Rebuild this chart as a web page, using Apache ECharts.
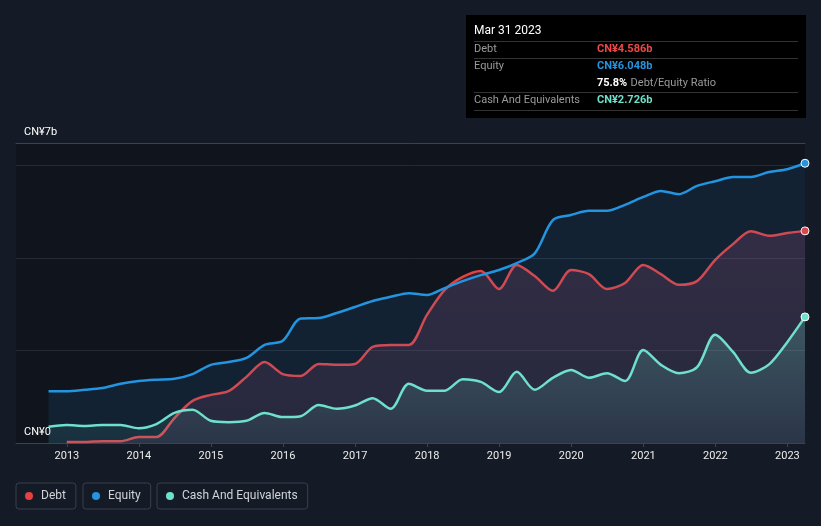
<!DOCTYPE html>
<html><head><meta charset="utf-8">
<script src="https://cdn.jsdelivr.net/npm/echarts@6/dist/echarts.min.js"></script>
<style>html,body{margin:0;padding:0;background:#151b26;}#c{width:821px;height:526px;}</style>
</head><body><div id="c"></div>
<script>
const quarters = [
  '2012-09-30','2012-12-31',
  '2013-03-31','2013-06-30','2013-09-30','2013-12-31',
  '2014-03-31','2014-06-30','2014-09-30','2014-12-31',
  '2015-03-31','2015-06-30','2015-09-30','2015-12-31',
  '2016-03-31','2016-06-30','2016-09-30','2016-12-31',
  '2017-03-31','2017-06-30','2017-09-30','2017-12-31',
  '2018-03-31','2018-06-30','2018-09-30','2018-12-31',
  '2019-03-31','2019-06-30','2019-09-30','2019-12-31',
  '2020-03-31','2020-06-30','2020-09-30','2020-12-31',
  '2021-03-31','2021-06-30','2021-09-30','2021-12-31',
  '2022-03-31','2022-06-30','2022-09-30','2022-12-31',
  '2023-03-31'
];
const debt = [null,0.02,0.02,0.04,0.04,0.13,0.13,0.54,0.91,1.04,1.12,1.43,1.75,1.49,1.45,1.71,1.69,1.71,2.08,2.12,2.12,2.77,3.31,3.59,3.72,3.33,3.85,3.61,3.29,3.74,3.65,3.33,3.46,3.85,3.65,3.42,3.50,3.96,4.30,4.58,4.48,4.54,4.586];
const equity = [1.12,1.12,1.15,1.19,1.28,1.34,1.37,1.39,1.49,1.69,1.75,1.84,2.12,2.21,2.69,2.70,2.81,2.94,3.07,3.16,3.24,3.20,3.35,3.50,3.63,3.74,3.89,4.10,4.82,4.93,5.02,5.02,5.15,5.32,5.45,5.38,5.56,5.66,5.75,5.75,5.86,5.92,6.048];
const cash = [0.35,0.39,0.37,0.39,0.39,0.32,0.41,0.65,0.72,0.48,0.45,0.48,0.65,0.56,0.58,0.82,0.74,0.81,0.97,0.74,1.28,1.13,1.13,1.38,1.32,1.10,1.54,1.15,1.41,1.58,1.41,1.51,1.34,2.01,1.69,1.51,1.64,2.34,1.97,1.52,1.70,2.18,2.726];
const yearTicks = ['2013','2014','2015','2016','2017','2018','2019','2020','2021','2022','2023'];
const yAxisLabels = ['CN¥0','CN¥7b'];
const yMax = 6.486;
const seriesNames = ['Debt','Equity','Cash And Equivalents'];
const colors = {debt:'#e64141', equity:'#2394df', cash:'#6ee0cb'};

const chart = echarts.init(document.getElementById('c'), null, {renderer:'canvas'});
const toTs = s => { const p = s.split('-'); return Date.UTC(+p[0], +p[1]-1, +p[2]); };
const xMin = Date.UTC(2012,3,18);
const xMax = Date.UTC(2023,2,31);
const yearTs = yearTicks.map(y => Date.UTC(+y,0,1));

function mk(name, vals, color, areaColor, z) {
  const data = [];
  quarters.forEach((q,i) => { if (vals[i] != null) data.push([toTs(q), vals[i]]); });
  const last = data.length - 1;
  data[last] = {value: data[last], symbol:'circle', symbolSize:8,
    itemStyle:{color:color, borderColor:'#ffffff', borderWidth:1}};
  return {
    name, type:'line', data, smooth:0.3, z,
    showSymbol:true, showAllSymbol:true, symbol:'none',
    lineStyle:{color, width:2.5}, itemStyle:{color},
    areaStyle:{color:areaColor, origin:'start'},
    emphasis:{disabled:true}, silent:true
  };
}

const lastDebt = debt[debt.length-1], lastEq = equity[equity.length-1], lastCash = cash[cash.length-1];
const months = ['Jan','Feb','Mar','Apr','May','Jun','Jul','Aug','Sep','Oct','Nov','Dec'];
const lq = quarters[quarters.length-1].split('-');
const title = months[+lq[1]-1] + ' ' + (+lq[2]) + ' ' + lq[0];
const fmt = v => 'CN¥' + v.toFixed(3) + 'b';
const ratio = (lastDebt/lastEq*100).toFixed(1) + '%';

const labelFont = '11px Roboto';
const tipLines = [41.5, 58.5, 92.5, 110.5].map(y => ({type:'line', silent:true,
  shape:{x1:474,y1:y,x2:798,y2:y}, style:{stroke:'#333333', lineWidth:1}}));

function legendAt(left, name) {
  return {data:[name], left, top:483, icon:'circle', itemWidth:14, itemHeight:8,
    padding:[7,10,7,9], borderColor:'#3a404b', borderWidth:1, borderRadius:3,
    selectedMode:false,
    textStyle:{color:'#d0d3d8', fontSize:12, fontFamily:'Roboto'}};
}

const grad = (c, a0, a1) => new echarts.graphic.LinearGradient(0,0,0,1,[
  {offset:0,color:'rgba(' + c + ',' + a0 + ')'},{offset:1,color:'rgba(' + c + ',' + a1 + ')'}]);

chart.setOption({
  animation:false,
  backgroundColor:'#151b26',
  textStyle:{fontFamily:'Roboto'},
  grid:{left:16, right:16, top:143, bottom:83, show:true, backgroundColor:'#10141d', borderWidth:0},
  legend:[legendAt(16,'Debt'), legendAt(83,'Equity'), legendAt(157,'Cash And Equivalents')],
  xAxis:[{
    type:'value', min:xMin, max:xMax,
    axisLine:{lineStyle:{color:'#3d434d'}},
    axisTick:{show:true, customValues:yearTs, length:4, lineStyle:{color:'#3d434d'}},
    axisLabel:{customValues:yearTs, formatter:v => { const i = yearTs.indexOf(v); return i >= 0 ? yearTicks[i] : ''; },
      color:'#ececec', fontSize:11, margin:8, fontFamily:'Roboto'},
    splitLine:{show:false}
  },{
    type:'value', position:'top', min:0, max:1,
    axisLine:{show:true, lineStyle:{color:'#3d434d'}}, axisTick:{show:false},
    axisLabel:{show:false}, splitLine:{show:false}
  }],
  yAxis:{
    type:'value', min:0, max:yMax, interval:2,
    axisLine:{show:false}, axisTick:{show:false},
    splitLine:{lineStyle:{color:'#252a34'}},
    axisLabel:{inside:true, customValues:[0,yMax], formatter:v => v === 0 ? yAxisLabels[0] : yAxisLabels[1],
      verticalAlign:'bottom', color:'#ffffff', fontSize:11, margin:8, padding:[0,0,5,0], fontFamily:'Roboto'}
  },
  series:[
    mk(seriesNames[0], debt, colors.debt, grad('208,82,128', 0.28, 0.17), 2),
    mk(seriesNames[1], equity, colors.equity, 'rgba(35,148,223,0.17)', 3),
    mk(seriesNames[2], cash, colors.cash, grad('110,224,203', 0.34, 0.1), 4)
  ],
  graphic:[
    {type:'rect', silent:true, shape:{x:466,y:15,width:340,height:103}, style:{fill:'#000000'}},
    {type:'text', silent:true, x:474, y:31, style:{text:title, fill:'#ffffff', font:'12px Roboto', verticalAlign:'middle'}},
    ...tipLines,
    {type:'text', silent:true, x:474, y:49.5, style:{text:seriesNames[0], fill:'#9a9a9a', font:labelFont, verticalAlign:'middle'}},
    {type:'text', silent:true, x:597, y:49.5, style:{text:fmt(lastDebt), fill:'#f04848', font:'bold 11px Roboto', verticalAlign:'middle'}},
    {type:'text', silent:true, x:474, y:66.5, style:{text:seriesNames[1], fill:'#9a9a9a', font:labelFont, verticalAlign:'middle'}},
    {type:'text', silent:true, x:597, y:66.5, style:{text:fmt(lastEq), fill:colors.equity, font:'bold 11px Roboto', verticalAlign:'middle'}},
    {type:'text', silent:true, x:597, y:83.5, style:{text:'{b|' + ratio + '} {g|Debt/Equity Ratio}', verticalAlign:'middle',
      rich:{b:{fill:'#ffffff', font:'bold 11px Roboto'}, g:{fill:'#9a9a9a', font:'11px Roboto'}}}},
    {type:'text', silent:true, x:474, y:100.5, style:{text:seriesNames[2], fill:'#9a9a9a', font:labelFont, verticalAlign:'middle'}},
    {type:'text', silent:true, x:597, y:100.5, style:{text:fmt(lastCash), fill:colors.cash, font:'bold 11px Roboto', verticalAlign:'middle'}}
  ]
});
</script></body></html>
